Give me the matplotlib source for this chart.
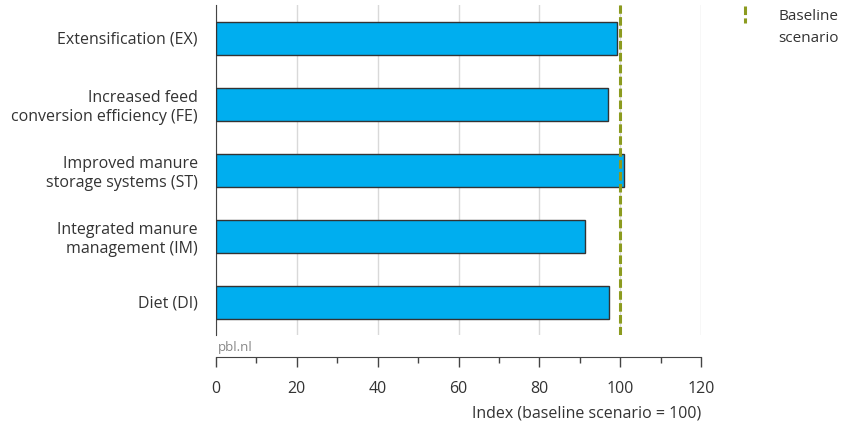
import matplotlib
matplotlib.use("Agg")
import matplotlib.pyplot as plt
from matplotlib.lines import Line2D
from matplotlib.ticker import MultipleLocator

categories = ["Extensification (EX)",
              "Increased feed\nconversion efficiency (FE)",
              "Improved manure\nstorage systems (ST)",
              "Integrated manure\nmanagement (IM)",
              "Diet (DI)"]
values = [99.1, 96.9, 101.0, 91.4, 97.2]
baseline = 100
xticks = [0, 20, 40, 60, 80, 100, 120]

plt.rcParams['font.family'] = ['Open Sans', 'DejaVu Sans']
text_col = '#333333'
axis_col = '#444444'
green = '#8C9B1F'
fs = 11.5

fig = plt.figure(figsize=(8.48, 4.25), dpi=100)
ax = fig.add_axes([216/848, 90/425, 485/848, 330/425])

pos = list(range(len(categories)))
ax.barh(pos, values, height=0.5, color='#00AEEF', edgecolor='#333333', linewidth=1.0, zorder=3)
ax.axvline(baseline, color=green, lw=2.2, dashes=(2.8, 1.1), zorder=4)

ax.set_ylim(4.5, -0.5)
ax.set_xlim(0, 120)
ax.set_yticks(pos)
ax.set_yticklabels(categories, fontsize=fs, color=text_col, linespacing=1.25)
ax.tick_params(axis='y', length=0, pad=13)

ax.set_xticks(xticks)
ax.xaxis.set_minor_locator(MultipleLocator(10))
ax.tick_params(axis='x', which='major', length=7, width=1, color=axis_col, pad=10,
               labelsize=fs, labelcolor=text_col)
ax.tick_params(axis='x', which='minor', length=4, width=1, color=axis_col)
ax.grid(axis='x', color='#d9d9d9', lw=1, zorder=0)
ax.set_axisbelow(True)

for s in ['top', 'right']:
    ax.spines[s].set_visible(False)
ax.spines['left'].set_color(axis_col)
ax.spines['bottom'].set_position(('outward', 16))
ax.spines['bottom'].set_color(axis_col)

ax.set_xlabel("Index (baseline scenario = 100)", loc='right', fontsize=fs,
              color=text_col, labelpad=6)

fig.text(218/848, 1 - 347/425, "pbl.nl", fontsize=9.5, color='#888888', va='center', ha='left')

# legend
fig.add_artist(Line2D([745/848, 745/848], [1 - 6/425, 1 - 23/425], color=green,
                      lw=2.2, dashes=(2.8, 1.1), transform=fig.transFigure))
fig.text(778/848, 1 - 27.5/425, "Baseline\nscenario", fontsize=11, color=text_col,
         ha='left', va='center', linespacing=1.6)

fig.savefig("out.png", dpi=100)
